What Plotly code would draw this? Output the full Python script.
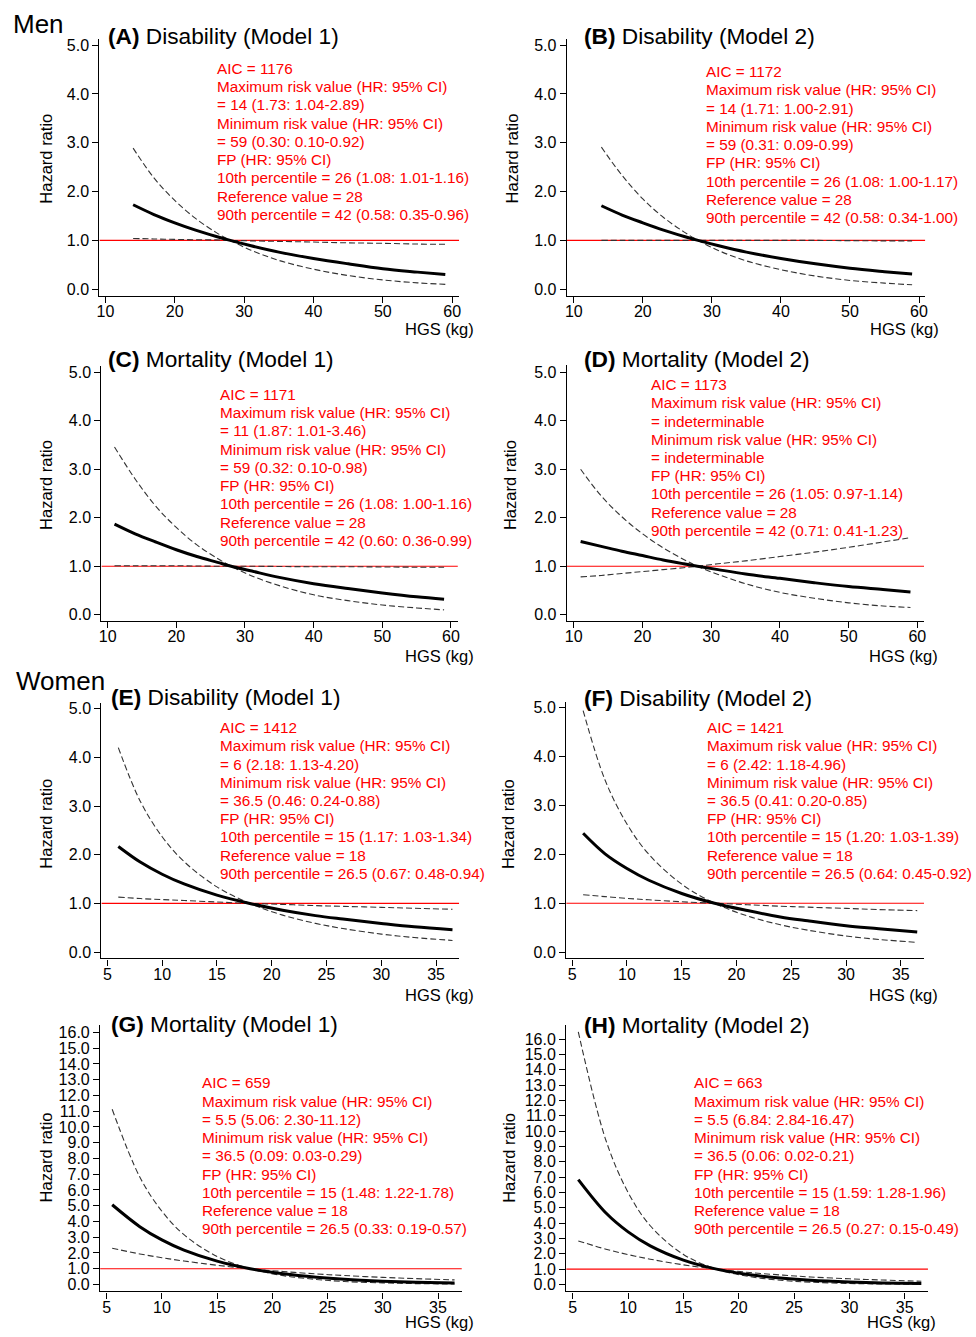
import plotly.graph_objects as go

W, H = 976, 1337

# ---------------- data ----------------
x_ab = [14, 17, 20, 23, 26, 28, 31, 35, 40, 45, 50, 55, 59]
x_cd = [11, 14, 17, 20, 23, 26, 28, 31, 35, 40, 45, 50, 55, 59]
x_ef = [6, 8, 10, 12, 15, 18, 21, 24, 26.5, 30, 33, 36.5]
x_gh = [5.5, 8, 10, 12, 15, 18, 21, 24, 26.5, 30, 33, 36.5]

ref_hr = 1.0  # reference hazard ratio line

hr_a = [1.73, 1.53, 1.36, 1.21, 1.08, 1.00, 0.89, 0.76, 0.63, 0.52, 0.42, 0.35, 0.30]
ci1_a = [2.89, 2.28, 1.82, 1.45, 1.16, 1.00, 0.80, 0.59, 0.41, 0.28, 0.19, 0.13, 0.10]
ci2_a = [1.04, 1.03, 1.02, 1.014, 1.01, 1.00, 0.99, 0.98, 0.966, 0.95, 0.94, 0.925, 0.92]

hr_b = [1.71, 1.52, 1.36, 1.21, 1.08, 1.00, 0.89, 0.76, 0.63, 0.52, 0.43, 0.36, 0.31]
ci1_b = [2.91, 2.33, 1.85, 1.47, 1.17, 1.00, 0.79, 0.58, 0.40, 0.27, 0.18, 0.125, 0.09]
ci2_b = [1.00, 1.00, 1.00, 1.00, 1.00, 1.00, 1.00, 1.00, 1.00, 1.00, 0.995, 0.99, 0.99]

hr_c = [1.87, 1.67, 1.50, 1.34, 1.20, 1.08, 1.00, 0.90, 0.77, 0.64, 0.54, 0.45, 0.37, 0.32]
ci1_c = [3.46, 2.80, 2.24, 1.80, 1.44, 1.16, 1.00, 0.80, 0.60, 0.41, 0.29, 0.20, 0.14, 0.10]
ci2_c = [1.01, 1.01, 1.01, 1.01, 1.005, 1.00, 1.00, 1.00, 0.995, 0.99, 0.99, 0.985, 0.98, 0.98]

hr_d = [1.51, 1.41, 1.31, 1.22, 1.13, 1.05, 1.00, 0.93, 0.84, 0.75, 0.66, 0.58, 0.52, 0.47]
ci1_d = [3.00, 2.45, 2.02, 1.67, 1.38, 1.14, 1.00, 0.83, 0.64, 0.46, 0.34, 0.245, 0.18, 0.15]
ci2_d = [0.78, 0.81, 0.85, 0.89, 0.93, 0.97, 1.00, 1.05, 1.11, 1.20, 1.29, 1.39, 1.50, 1.59]

hr_e = [2.17, 1.85, 1.60, 1.40, 1.17, 1.00, 0.86, 0.75, 0.68, 0.59, 0.52, 0.46]
ci1_e = [4.20, 3.10, 2.37, 1.86, 1.34, 1.00, 0.76, 0.59, 0.485, 0.37, 0.30, 0.24]
ci2_e = [1.13, 1.10, 1.08, 1.06, 1.03, 1.00, 0.98, 0.955, 0.94, 0.92, 0.90, 0.88]

hr_f = [2.43, 2.01, 1.71, 1.47, 1.20, 1.00, 0.85, 0.72, 0.64, 0.54, 0.48, 0.41]
ci1_f = [4.94, 3.52, 2.62, 2.00, 1.39, 1.00, 0.74, 0.56, 0.45, 0.33, 0.26, 0.20]
ci2_f = [1.175, 1.135, 1.10, 1.07, 1.03, 1.00, 0.97, 0.94, 0.92, 0.895, 0.87, 0.85]

hr_g = [5.06, 3.67, 2.83, 2.18, 1.48, 1.00, 0.68, 0.46, 0.33, 0.21, 0.14, 0.09]
ci1_g = [11.12, 6.82, 4.65, 3.16, 1.78, 1.00, 0.56, 0.32, 0.19, 0.10, 0.056, 0.03]
ci2_g = [2.30, 1.94, 1.70, 1.49, 1.22, 1.00, 0.82, 0.67, 0.57, 0.45, 0.37, 0.29]

hr_h = [6.84, 4.66, 3.43, 2.52, 1.59, 1.00, 0.63, 0.40, 0.27, 0.16, 0.10, 0.06]
ci1_h = [16.47, 9.39, 6.00, 3.83, 1.96, 1.00, 0.51, 0.26, 0.15, 0.068, 0.035, 0.02]
ci2_h = [2.84, 2.30, 1.95, 1.65, 1.28, 1.00, 0.78, 0.61, 0.49, 0.37, 0.29, 0.21]

titles = ["Disability (Model 1)", "Disability (Model 2)", "Mortality (Model 1)", "Mortality (Model 2)",
          "Disability (Model 1)", "Disability (Model 2)", "Mortality (Model 1)", "Mortality (Model 2)"]
letters = ["A", "B", "C", "D", "E", "F", "G", "H"]

notes = [
    ["AIC = 1176", "Maximum risk value (HR: 95% CI)", "= 14 (1.73: 1.04-2.89)",
     "Minimum risk value (HR: 95% CI)", "= 59 (0.30: 0.10-0.92)", "FP (HR: 95% CI)",
     "10th percentile = 26 (1.08: 1.01-1.16)", "Reference value = 28", "90th percentile = 42 (0.58: 0.35-0.96)"],
    ["AIC = 1172", "Maximum risk value (HR: 95% CI)", "= 14 (1.71: 1.00-2.91)",
     "Minimum risk value (HR: 95% CI)", "= 59 (0.31: 0.09-0.99)", "FP (HR: 95% CI)",
     "10th percentile = 26 (1.08: 1.00-1.17)", "Reference value = 28", "90th percentile = 42 (0.58: 0.34-1.00)"],
    ["AIC = 1171", "Maximum risk value (HR: 95% CI)", "= 11 (1.87: 1.01-3.46)",
     "Minimum risk value (HR: 95% CI)", "= 59 (0.32: 0.10-0.98)", "FP (HR: 95% CI)",
     "10th percentile = 26 (1.08: 1.00-1.16)", "Reference value = 28", "90th percentile = 42 (0.60: 0.36-0.99)"],
    ["AIC = 1173", "Maximum risk value (HR: 95% CI)", "= indeterminable",
     "Minimum risk value (HR: 95% CI)", "= indeterminable", "FP (HR: 95% CI)",
     "10th percentile = 26 (1.05: 0.97-1.14)", "Reference value = 28", "90th percentile = 42 (0.71: 0.41-1.23)"],
    ["AIC = 1412", "Maximum risk value (HR: 95% CI)", "= 6 (2.18: 1.13-4.20)",
     "Minimum risk value (HR: 95% CI)", "= 36.5 (0.46: 0.24-0.88)", "FP (HR: 95% CI)",
     "10th percentile = 15 (1.17: 1.03-1.34)", "Reference value = 18", "90th percentile = 26.5 (0.67: 0.48-0.94)"],
    ["AIC = 1421", "Maximum risk value (HR: 95% CI)", "= 6 (2.42: 1.18-4.96)",
     "Minimum risk value (HR: 95% CI)", "= 36.5 (0.41: 0.20-0.85)", "FP (HR: 95% CI)",
     "10th percentile = 15 (1.20: 1.03-1.39)", "Reference value = 18", "90th percentile = 26.5 (0.64: 0.45-0.92)"],
    ["AIC = 659", "Maximum risk value (HR: 95% CI)", "= 5.5 (5.06: 2.30-11.12)",
     "Minimum risk value (HR: 95% CI)", "= 36.5 (0.09: 0.03-0.29)", "FP (HR: 95% CI)",
     "10th percentile = 15 (1.48: 1.22-1.78)", "Reference value = 18", "90th percentile = 26.5 (0.33: 0.19-0.57)"],
    ["AIC = 663", "Maximum risk value (HR: 95% CI)", "= 5.5 (6.84: 2.84-16.47)",
     "Minimum risk value (HR: 95% CI)", "= 36.5 (0.06: 0.02-0.21)", "FP (HR: 95% CI)",
     "10th percentile = 15 (1.59: 1.28-1.96)", "Reference value = 18", "90th percentile = 26.5 (0.27: 0.15-0.49)"],
]

xs = [x_ab, x_ab, x_cd, x_cd, x_ef, x_ef, x_gh, x_gh]
hrs = [hr_a, hr_b, hr_c, hr_d, hr_e, hr_f, hr_g, hr_h]
ci1s = [ci1_a, ci1_b, ci1_c, ci1_d, ci1_e, ci1_f, ci1_g, ci1_h]
ci2s = [ci2_a, ci2_b, ci2_c, ci2_d, ci2_e, ci2_f, ci2_g, ci2_h]

x_ticks_men = [10, 20, 30, 40, 50, 60]
x_ticks_women = [5, 10, 15, 20, 25, 30, 35]
y_ticks_small = [0, 1, 2, 3, 4, 5]
y_ticks_big = list(range(0, 17))

# ---------------- layout geometry (pixels) ----------------
xdom_px = [(97, 459), (567.3, 928), (99, 457.7), (567.3, 926.7),
           (99, 459), (566.7, 926.7), (97.7, 461.7), (566.7, 930.7)]
ydom_px = [(36.7, 295), (36.7, 295), (365, 621), (364, 621),
           (703.3, 960), (702.3, 960), (1026.7, 1294.3), (1026.7, 1294.3)]
xranges = [(9.14, 61.0), (8.99, 60.91), (9.09, 61.01), (8.99, 60.97),
           (4.456, 37.11), (4.456, 37.12), (4.406, 37.16), (4.407, 37.10)]
yranges = [(-0.137, 5.135), (-0.137, 5.135), (-0.123, 5.138), (-0.123, 5.158),
           (-0.129, 5.123), (-0.128, 5.122), (-0.443, 16.48), (-0.455, 16.93)]
note_pos = [(213, 66.7), (705.3, 70), (216, 394), (650.3, 384),
            (216, 728.3), (706, 728.3), (198.7, 1085), (693.7, 1085)]
title_pos = [(104, 34), (583, 34), (104, 358), (583, 358),
             (106.3, 698), (583, 699), (106.3, 1025.7), (583, 1026.7)]
ylab_pos = [(43, 157.5), (511.7, 157.5), (43, 485), (510, 485),
            (43, 825), (508.3, 825), (43, 1160), (508.3, 1160)]
xlab_pos = [(476, 328), (944.3, 328), (476, 656), (942.7, 656),
            (476, 996.7), (942.7, 996.7), (476, 1325), (941, 1325)]


def px(x):
    return x / W


def py(y):
    return 1 - y / H


FONT = "Liberation Sans, Arial, sans-serif"
fig = go.Figure()
annotations = []
layout = {}

for i in range(8):
    n = i + 1
    xa = "x" if n == 1 else f"x{n}"
    ya = "y" if n == 1 else f"y{n}"
    # reference line HR = 1 across the whole axis
    fig.add_trace(go.Scatter(x=list(xranges[i]), y=[ref_hr, ref_hr], mode="lines", xaxis=xa, yaxis=ya,
                             line=dict(color="#ff0000", width=1.2), cliponaxis=False,
                             showlegend=False, hoverinfo="skip"))
    for yy, dash, width, color in [(ci1s[i], "6px,3px", 1.1, "#333333"),
                                   (ci2s[i], "6px,3px", 1.1, "#333333"),
                                   (hrs[i], "solid", 3, "black")]:
        fig.add_trace(go.Scatter(x=xs[i], y=yy, mode="lines", xaxis=xa, yaxis=ya,
                                 line=dict(color=color, width=width, dash=dash, shape="spline"),
                                 showlegend=False, hoverinfo="skip"))
    xt = x_ticks_men if i < 4 else x_ticks_women
    yt = y_ticks_small if i < 6 else y_ticks_big
    layout["xaxis" if n == 1 else f"xaxis{n}"] = dict(
        domain=[px(xdom_px[i][0]), px(xdom_px[i][1])], range=list(xranges[i]),
        anchor=ya, showgrid=False, zeroline=False, showline=True, linecolor="black", linewidth=1.3,
        ticks="outside", ticklen=6, tickcolor="black", tickwidth=1.2,
        tickvals=xt, ticktext=[str(v) for v in xt], ticklabelstandoff=-5,
        tickfont=dict(family=FONT, size=16, color="black"))
    layout["yaxis" if n == 1 else f"yaxis{n}"] = dict(
        domain=[py(ydom_px[i][1]), py(ydom_px[i][0])], range=list(yranges[i]),
        anchor=xa, showgrid=False, zeroline=False, showline=True, linecolor="black", linewidth=1.3,
        ticks="outside", ticklen=6, tickcolor="black", tickwidth=1.2,
        tickvals=yt, ticktext=[f"{v:.1f}" for v in yt],
        tickfont=dict(family=FONT, size=16, color="black"))
    # panel title
    annotations.append(dict(x=px(title_pos[i][0]), y=py(title_pos[i][1]), xref="paper", yref="paper",
                            xanchor="left", yanchor="middle", showarrow=False,
                            text=f"<b>({letters[i]})</b> {titles[i]}",
                            font=dict(family=FONT, size=22.7, color="black")))
    # red notes
    for k, line in enumerate(notes[i]):
        annotations.append(dict(x=px(note_pos[i][0]), y=py(note_pos[i][1] + k * 18.3),
                                xref="paper", yref="paper", xanchor="left", yanchor="middle",
                                showarrow=False, text=line,
                                font=dict(family=FONT, size=15.3, color="#ff0000")))
    annotations.append(dict(x=px(ylab_pos[i][0]), y=py(ylab_pos[i][1]), xref="paper", yref="paper",
                            xanchor="center", yanchor="middle", showarrow=False, textangle=-90,
                            text="Hazard ratio", font=dict(family=FONT, size=16.5, color="black")))
    annotations.append(dict(x=px(xlab_pos[i][0]), y=py(xlab_pos[i][1]), xref="paper", yref="paper",
                            xanchor="right", yanchor="middle", showarrow=False,
                            text="HGS (kg)", font=dict(family=FONT, size=16.5, color="black")))

annotations.append(dict(x=px(8.5), y=py(21.7), xref="paper", yref="paper", xanchor="left",
                        yanchor="middle", showarrow=False, text="Men",
                        font=dict(family=FONT, size=26, color="black")))
annotations.append(dict(x=px(11), y=py(681.7), xref="paper", yref="paper", xanchor="left",
                        yanchor="middle", showarrow=False, text="Women",
                        font=dict(family=FONT, size=26, color="black")))

fig.update_layout(width=W, height=H, margin=dict(l=0, r=0, t=0, b=0),
                  paper_bgcolor="white", plot_bgcolor="white",
                  annotations=annotations, **layout)

fig.write_html("out.html", config={"displayModeBar": False},
               post_script="document.body.style.margin='0px';document.body.style.padding='0px';")
